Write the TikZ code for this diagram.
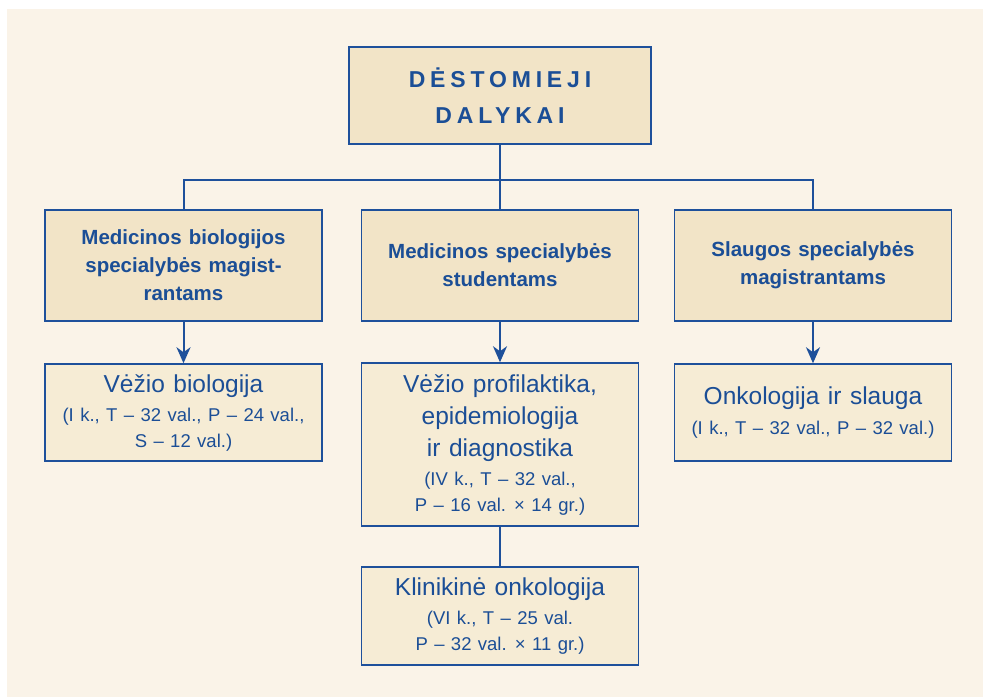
\documentclass[tikz,border=0pt]{standalone}
\usepackage{fontspec}
\setmainfont[WordSpace=1.25]{Liberation Sans}
\newfontfamily\headfont[LetterSpace=21]{Liberation Sans}
\usetikzlibrary{arrows.meta}

\definecolor{pagebg}{HTML}{FAF3E8}
\definecolor{groupfill}{HTML}{F2E4C7}
\definecolor{coursefill}{HTML}{F6ECD5}
\definecolor{lineblue}{HTML}{1E509B}
\definecolor{textblue}{HTML}{1B4E96}

\begin{document}
\begin{tikzpicture}[
    x=1pt, y=-1pt,
    box/.style={draw=lineblue, line width=1.5pt, text=textblue, inner sep=0pt, align=center},
    group/.style={box, fill=groupfill, minimum width=277pt, minimum height=111pt,
        font=\fontsize{20.5}{28}\selectfont\bfseries},
    course/.style={box, fill=coursefill, minimum width=277pt,
        font=\fontsize{18.5}{26}\selectfont},
    link/.style={lineblue, line width=2pt},
    ]
    \useasboundingbox (0,0) rectangle (983,697);
    \fill[pagebg] (7,9) rectangle (983,697);

    % root
    \node[box, fill=groupfill, minimum width=302pt, minimum height=97pt,
        font=\fontsize{23}{36}\selectfont\headfont\bfseries] (dest) at (500,95.5)
        {DĖSTOMIEJI\\DALYKAI};

    % student groups
    \node[group] (bio) at (183.5,265.5) {Medicinos biologijos\\specialybės magist-\\rantams};
    \node[group] (med) at (500,265.5) {Medicinos specialybės\\studentams};
    \node[group] (nurse) at (813,265.5) {Slaugos specialybės\\magistrantams};

    % courses
    \node[course, minimum height=97pt] (biocourse) at (183.5,412.5)
        {{\fontsize{24.5}{29}\selectfont Vėžio biologija}\\[3pt]
         (I k., T – 32 val., P – 24 val.,\\S – 12 val.)};
    \node[course, minimum height=163pt] (prevcourse) at (500,444.5)
        {{\fontsize{24.5}{29}\selectfont Vėžio profilaktika,}\\[6pt]
         {\fontsize{24.5}{29}\selectfont epidemiologija}\\[6pt]
         {\fontsize{24.5}{29}\selectfont ir diagnostika}\\[3pt]
         (IV k., T – 32 val.,\\P – 16 val. × 14 gr.)};
    \node[course, minimum height=97pt] (nursecourse) at (813,412.5)
        {{\fontsize{24.5}{29}\selectfont Onkologija ir slauga}\\[4pt]
         (I k., T – 32 val., P – 32 val.)};
    \node[course, minimum height=98pt] (clinic) at (500,616)
        {{\fontsize{24.5}{29}\selectfont Klinikinė onkologija}\\[3pt]
         (VI k., T – 25 val.\\P – 32 val. × 11 gr.)};

    % tree lines
    \coordinate (fork) at (500,180);
    \draw[link] (dest) -- (fork);
    \draw[link] (bio.north) -- (bio.north |- fork) -- (nurse.north |- fork) -- (nurse.north);
    \draw[link] (fork) -- (med.north);
    \foreach \a/\b in {bio/biocourse, med/prevcourse, nurse/nursecourse}
        \draw[link, -{Stealth[length=16pt, width=14pt, inset=5pt]}] (\a) -- (\b);
    \draw[link] (prevcourse) -- (clinic);
\end{tikzpicture}
\end{document}
